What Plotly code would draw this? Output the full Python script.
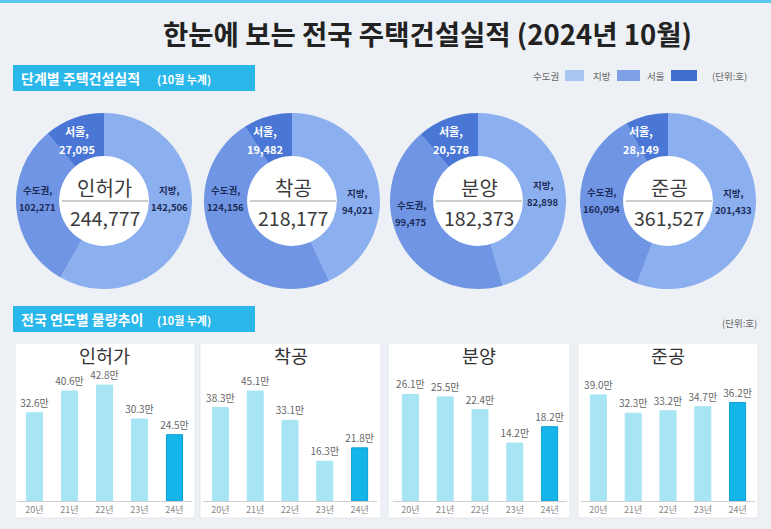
import plotly.graph_objects as go

W, H = 771, 529
FONT = 'Noto Sans CJK KR'

# donut data (10월 누계, 단위: 호)
stages = ['인허가', '착공', '분양', '준공']
capital = [102271, 124156, 99475, 160094]   # 수도권
local = [142506, 94021, 82898, 201433]      # 지방
seoul = [27095, 19482, 20578, 28149]        # 서울 (수도권 내)

# yearly totals (만 호)
years = ['20년', '21년', '22년', '23년', '24년']
permit = [32.6, 40.6, 42.8, 30.3, 24.5]
start = [38.3, 45.1, 33.1, 16.3, 21.8]
sale = [26.1, 25.5, 22.4, 14.2, 18.2]
complete = [39.0, 32.3, 33.2, 34.7, 36.2]


def px_x(x):
    return x / W


def px_y(y):
    return 1 - y / H


def dom(cx, cy, r):
    return dict(x=[px_x(cx - r), px_x(cx + r)], y=[px_y(cy + r), px_y(cy - r)])


fig = go.Figure()
shapes = []
ann = []

# top strip + section headers
shapes.append(dict(type='rect', xref='paper', yref='paper', x0=0, x1=1, y0=px_y(3), y1=1,
                   fillcolor='#5cc8ea', line_width=0, layer='below'))
for y0, y1 in [(65, 91), (306, 332)]:
    shapes.append(dict(type='rect', xref='paper', yref='paper', x0=px_x(13), x1=px_x(255),
                       y0=px_y(y1), y1=px_y(y0), fillcolor='#2ab7ea', line_width=0, layer='below'))

ann.append(dict(text='<b>한눈에 보는 전국 주택건설실적 (2024년 10월)</b>', x=px_x(427), y=px_y(33),
                font=dict(size=27.5, color='#222222')))
ann.append(dict(text='<b>단계별 주택건설실적</b>', x=px_x(19), y=px_y(78), xanchor='left',
                font=dict(size=14, color='white')))
ann.append(dict(text='<b>(10월 누계)</b>', x=px_x(155), y=px_y(79), xanchor='left',
                font=dict(size=11, color='white')))
ann.append(dict(text='<b>전국 연도별 물량추이</b>', x=px_x(19), y=px_y(319), xanchor='left',
                font=dict(size=14, color='white')))
ann.append(dict(text='<b>(10월 누계)</b>', x=px_x(155), y=px_y(320), xanchor='left',
                font=dict(size=11, color='white')))

# legend (drawn as in the original)
legend_items = [('수도권', '#a9c6f3', 565, 584), ('지방', '#7c9fe6', 617, 640), ('서울', '#3f6dcf', 671, 697)]
for name, col, x0, x1 in legend_items:
    shapes.append(dict(type='rect', xref='paper', yref='paper', x0=px_x(x0), x1=px_x(x1),
                       y0=px_y(81), y1=px_y(70), fillcolor=col, line_width=0))
    ann.append(dict(text=name, x=px_x(x0 - 4), y=px_y(76), xanchor='right',
                    font=dict(size=9.5, color='#666666')))
ann.append(dict(text='(단위:호)', x=px_x(729), y=px_y(76), font=dict(size=9.5, color='#666666')))
ann.append(dict(text='(단위:호)', x=px_x(739), y=px_y(323), font=dict(size=9.5, color='#666666')))

# donuts
centers = [104, 292, 478, 668]
CY, R = 201, 88
side_dy = [(-3, -3), (-3, 0), (12, -8), (-1, 0)]


def two_lines(top, bottom, x, y, gap, size, color):
    ann.append(dict(text=f'<b>{top}</b>', x=px_x(x), y=px_y(y - gap / 2), font=dict(size=size, color=color)))
    ann.append(dict(text=f'<b>{bottom}</b>', x=px_x(x), y=px_y(y + gap / 2), font=dict(size=size, color=color)))


for i, stage in enumerate(stages):
    cx = centers[i]
    fig.add_trace(go.Pie(
        values=[local[i], capital[i] - seoul[i], seoul[i]],
        labels=['지방', '수도권', '서울'],
        sort=False, direction='clockwise', rotation=0, hole=0.5,
        marker=dict(colors=['#8cb0ef', '#6f95e4', '#4a77d6'], line=dict(width=0)),
        textinfo='none', hoverinfo='label+value', showlegend=False,
        domain=dom(cx, CY, R)))
    fig.add_trace(go.Pie(
        values=[1], labels=[stage], marker=dict(colors=['white'], line=dict(width=0)),
        textinfo='none', hoverinfo='skip', showlegend=False,
        domain=dom(cx, CY, R * 0.51)))
    total = capital[i] + local[i]
    ann.append(dict(text=stage, x=px_x(cx + 1), y=px_y(CY - 14), font=dict(size=20, color='#3b3b3b')))
    ann.append(dict(text=f'{total:,}', x=px_x(cx + 1), y=px_y(CY + 17), font=dict(size=19.5, color='#3b3b3b')))
    shapes.append(dict(type='line', xref='paper', yref='paper', x0=px_x(cx - 42), x1=px_x(cx + 44),
                       y0=px_y(CY), y1=px_y(CY), line=dict(color='#9a9a9a', width=1)))
    two_lines('서울,', f'{seoul[i]:,}', cx - 27, CY - 61, 19, 11, 'white')
    dl, dr = side_dy[i]
    two_lines('수도권,', f'{capital[i]:,}', cx - 67, CY + dl, 17, 9.5, '#1c2b57')
    two_lines('지방,', f'{local[i]:,}', cx + 65, CY + dr, 17, 9.5, '#1c2b57')

# yearly bar panels
series = [permit, start, sale, complete]
panels = [(15, 195), (200, 381), (388, 570), (578, 758)]
axis_x = [(17, 192), (203, 377), (393, 567), (581, 755)]
y_tops = [51.7, 57.4, 34.3, 51.5]
layout_axes = {}
for i, vals in enumerate(series):
    n = '' if i == 0 else str(i + 1)
    px0, px1 = panels[i]
    shapes.append(dict(type='rect', xref='paper', yref='paper', x0=px_x(px0), x1=px_x(px1),
                       y0=px_y(518), y1=px_y(343), fillcolor='white',
                       line=dict(color='#e3e7ec', width=1), layer='below'))
    ann.append(dict(text=stages[i], x=px_x((px0 + px1) / 2), y=px_y(355),
                    font=dict(size=18.5, color='#333333')))
    fig.add_trace(go.Bar(
        x=years, y=vals, xaxis='x' + n, yaxis='y' + n,
        marker=dict(color=['#a7e5f5'] * 4 + ['#14b6ea'],
                    line=dict(color=['#a7e5f5'] * 4 + ['#0b9fd6'], width=1)),
        text=[f'{v:.1f}만' for v in vals], textposition='outside', cliponaxis=False,
        constraintext='none',
        textfont=dict(size=10, color='#666666'), showlegend=False))
    ax0, ax1 = axis_x[i]
    layout_axes['xaxis' + n] = dict(domain=[px_x(ax0), px_x(ax1)], anchor='y' + n,
                                    showline=True, linecolor='#cfcfcf', linewidth=1,
                                    showgrid=False, ticks='', fixedrange=True,
                                    tickfont=dict(size=9, color='#888888'))
    layout_axes['yaxis' + n] = dict(domain=[px_y(501), px_y(361)], anchor='x' + n,
                                    range=[0, y_tops[i]], visible=False, fixedrange=True)

for a in ann:
    a.update(xref='paper', yref='paper', showarrow=False, yanchor='middle')
    a.setdefault('xanchor', 'center')
    a['font'].setdefault('family', FONT)

fig.update_layout(
    width=W, height=H, margin=dict(l=0, r=0, t=0, b=0),
    paper_bgcolor='#edf0f4', plot_bgcolor='rgba(0,0,0,0)',
    font=dict(family=FONT), bargap=0.54,
    shapes=shapes, annotations=ann, **layout_axes)

fig.write_html("out.html", config={'displayModeBar': False},
               post_script="document.body.style.margin='0';document.body.style.overflow='hidden';")
